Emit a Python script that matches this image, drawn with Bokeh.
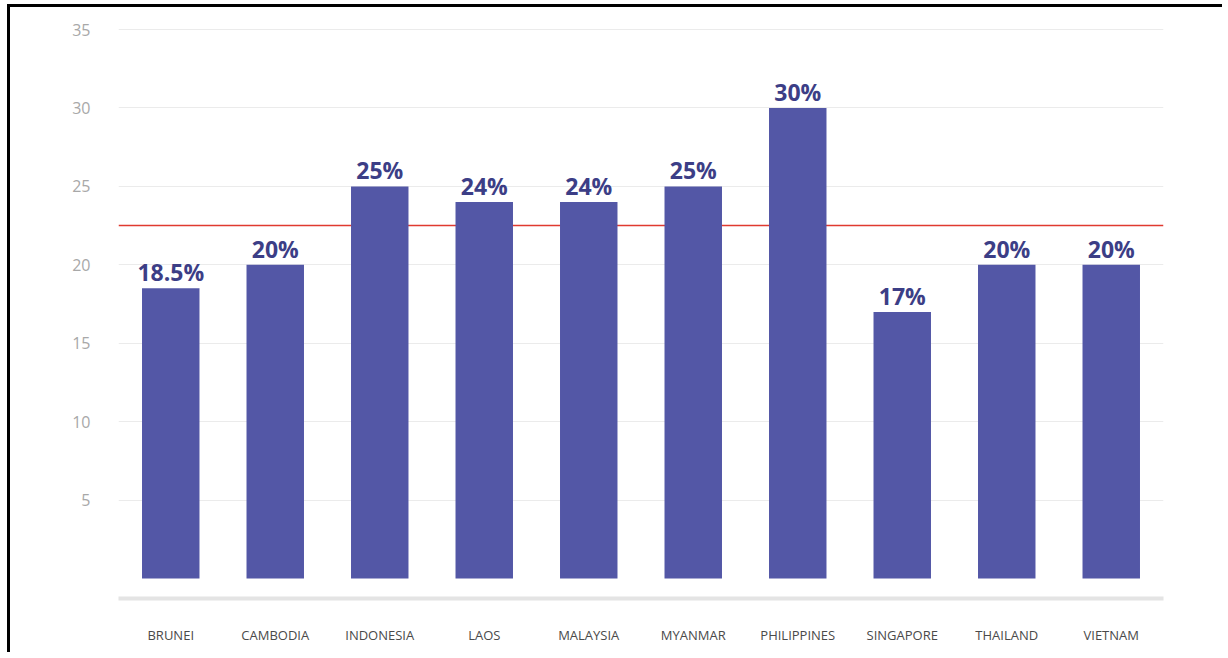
from bokeh.plotting import figure
from bokeh.models import ColumnDataSource, Range1d, FixedTicker, Span
from bokeh.core.properties import value
from bokeh.embed import file_html
from bokeh.resources import INLINE

countries = ["BRUNEI", "CAMBODIA", "INDONESIA", "LAOS", "MALAYSIA",
             "MYANMAR", "PHILIPPINES", "SINGAPORE", "THAILAND", "VIETNAM"]
rates = [18.5, 20, 25, 24, 24, 25, 30, 17, 20, 20]
rate_labels = ["18.5%", "20%", "25%", "24%", "24%", "25%", "30%", "17%", "20%", "20%"]
average_rate = 22.5
y_ticks = [5, 10, 15, 20, 25, 30, 35]

src = ColumnDataSource(dict(country=countries, rate=rates, label=rate_labels))

p = figure(x_range=countries, y_range=Range1d(-1.27, 35.51),
           width=1215, height=648, output_backend="svg", toolbar_location=None,
           min_border_left=108, min_border_right=62, min_border_top=14,
           min_border_bottom=57,
           styles={"border-top": "3px solid black", "border-left": "3px solid black",
                   "margin-left": "7px", "margin-top": "4px"})

p.outline_line_color = None
p.background_fill_color = "white"
p.border_fill_color = "white"

avg = Span(location=average_rate, dimension="width", line_color="#e03a30",
           line_width=1.5, level="underlay")
p.add_layout(avg)

p.vbar(x="country", top="rate", bottom=0, width=0.55, source=src,
       fill_color="#5357a6", line_color=None)

p.text(x="country", y="rate", text="label", source=src,
       text_font=value("Open Sans"), text_font_style="bold",
       text_font_size="23px", text_color="#3c3e86",
       text_align="center", text_baseline="alphabetic", y_offset=-16)

p.xgrid.grid_line_color = None
p.ygrid.grid_line_color = "#ebebeb"
p.ygrid.grid_line_width = 1
p.yaxis.ticker = FixedTicker(ticks=y_ticks)
p.yaxis.axis_line_color = None
p.yaxis.major_tick_line_color = None
p.yaxis.minor_tick_line_color = None
p.yaxis.major_label_standoff = 22
p.yaxis.major_label_text_font = "Open Sans"
p.yaxis.major_label_text_font_size = "16px"
p.yaxis.major_label_text_color = "#a8a8a8"

p.xaxis.axis_line_color = "#e4e4e4"
p.xaxis.axis_line_width = 4
p.xaxis.major_tick_line_color = None
p.xaxis.minor_tick_line_color = None
p.xaxis.major_label_standoff = 21
p.xaxis.major_label_text_font = "Open Sans"
p.xaxis.major_label_text_font_size = "13px"
p.xaxis.major_label_text_color = "#4a4a4a"

open("out.html", "w").write(file_html(p, INLINE))
